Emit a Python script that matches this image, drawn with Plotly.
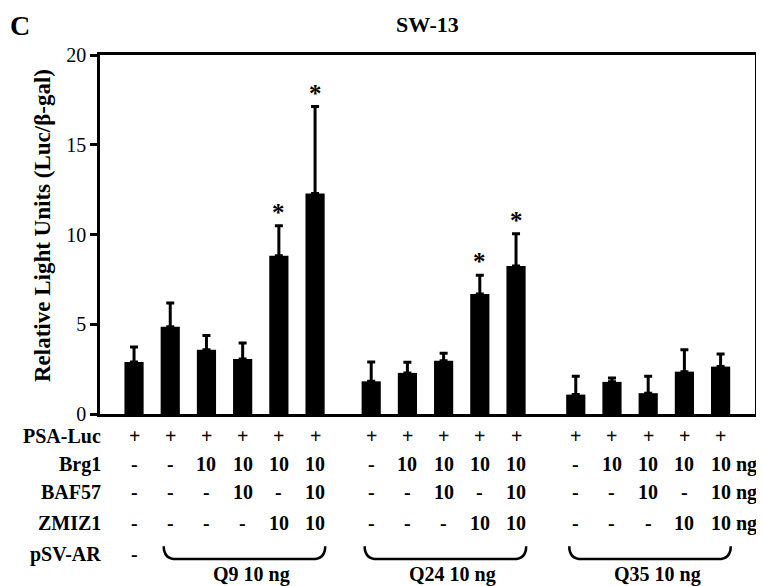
import plotly.graph_objects as go

# ---------------- data ----------------
group_names = ["Q9 10 ng", "Q24 10 ng", "Q35 10 ng"]
q9_mean = [2.90, 4.86, 3.58, 3.07, 8.81, 12.28]
q9_err = [0.83, 1.32, 0.80, 0.89, 1.68, 4.85]
q24_mean = [1.82, 2.29, 2.97, 6.69, 8.25]
q24_err = [1.08, 0.59, 0.41, 1.04, 1.79]
q35_mean = [1.08, 1.79, 1.16, 2.36, 2.64]
q35_err = [1.02, 0.22, 0.94, 1.22, 0.70]
significant = [False, False, False, False, True, True,
               False, False, False, True, True,
               False, False, False, False, False]

row_labels = ["PSA-Luc", "Brg1", "BAF57", "ZMIZ1"]
psa_luc = ["+"] * 16
brg1 = ["-", "-", "10", "10", "10", "10", "-", "10", "10", "10", "10", "-", "10", "10", "10", "10"]
baf57 = ["-", "-", "-", "10", "-", "10", "-", "-", "10", "-", "10", "-", "-", "10", "-", "10"]
zmiz1 = ["-", "-", "-", "-", "10", "10", "-", "-", "-", "10", "10", "-", "-", "-", "10", "10"]
psv_ar_first = "-"

y_ticks = [0, 5, 10, 15, 20]

# ---------------- layout helpers ----------------
FONT = "Liberation Serif, Times New Roman, serif"
W, H = 764, 586
OFF = 8  # page body margin
PLOT_L, PLOT_R, PLOT_T, PLOT_B = 100, 755.5, 54.5, 414.5  # target screen pixels
ML = PLOT_L - OFF
MR = W - (PLOT_R - OFF)
MT = PLOT_T - OFF
MB = H - (PLOT_B - OFF)
PH = PLOT_B - PLOT_T


def py(pix):
    """screen pixel row -> paper y"""
    return (PLOT_B - pix) / PH


group_starts = [0.0, 6.55, 12.2]
means = [q9_mean, q24_mean, q35_mean]
errs = [q9_err, q24_err, q35_err]

xs, ys, es = [], [], []
for g, (m, e) in enumerate(zip(means, errs)):
    for i, (mv, ev) in enumerate(zip(m, e)):
        xs.append(group_starts[g] + i)
        ys.append(mv)
        es.append(ev)

fig = go.Figure()
fig.add_trace(go.Bar(
    x=xs, y=ys, width=0.53,
    marker=dict(color="black", line=dict(width=0)),
    error_y=dict(type="data", symmetric=False, array=es,
                 arrayminus=[0] * len(es), color="black",
                 thickness=3, width=4),
    showlegend=False, hoverinfo="skip",
))

TS = 20
annotations = []
# significance stars
for x, y, e, s in zip(xs, ys, es, significant):
    if s:
        annotations.append(dict(x=x, y=y + e, xref="x", yref="y", text="<b>*</b>",
                                showarrow=False, yanchor="bottom", yshift=-2,
                                font=dict(family=FONT, size=25, color="black")))

# table rows
rows = [psa_luc, brg1, baf57, zmiz1]
row_pix = [437, 465, 493, 524]
for label, vals, rp in zip(row_labels, rows, row_pix):
    annotations.append(dict(x=0, y=py(rp), xref="paper", yref="paper", text=f"<b>{label}</b>",
                            showarrow=False, xanchor="right", yanchor="middle", xshift=3,
                            font=dict(family=FONT, size=TS, color="black")))
    for x, v in zip(xs, vals):
        annotations.append(dict(x=x, y=py(rp), xref="x", yref="paper", text=f"<b>{v}</b>",
                                showarrow=False, xanchor="center", yanchor="middle",
                                font=dict(family=FONT, size=TS, color="black")))
    if label != "PSA-Luc":
        annotations.append(dict(x=xs[-1], y=py(rp), xref="x", yref="paper", text="<b>ng</b>",
                                showarrow=False, xanchor="left", yanchor="middle", xshift=13,
                                font=dict(family=FONT, size=TS, color="black")))

# pSV-AR row
annotations.append(dict(x=0, y=py(555), xref="paper", yref="paper", text="<b>pSV-AR</b>",
                        showarrow=False, xanchor="right", yanchor="middle", xshift=3,
                        font=dict(family=FONT, size=TS, color="black")))
annotations.append(dict(x=xs[0], y=py(555), xref="x", yref="paper", text=f"<b>{psv_ar_first}</b>",
                        showarrow=False, xanchor="center", yanchor="middle",
                        font=dict(family=FONT, size=TS, color="black")))

# brackets
shapes = []
bracket_ranges = [(xs[1], xs[5]), (xs[6], xs[10]), (xs[11], xs[15])]
yt, yb = py(547), py(560)
for (a0, b0), name in zip(bracket_ranges, group_names):
    a, b = a0 - 0.18, b0 + 0.28
    d = 0.35
    path = f"M {a},{yt} Q {a},{yb} {a + d},{yb} L {b - d},{yb} Q {b},{yb} {b},{yt}"
    shapes.append(dict(type="path", path=path, xref="x", yref="paper",
                       line=dict(color="black", width=2.5)))
    annotations.append(dict(x=(a + b) / 2 + 0.2, y=py(575), xref="x", yref="paper",
                            text=f"<b>{name}</b>", showarrow=False, xanchor="center",
                            yanchor="middle", font=dict(family=FONT, size=TS, color="black")))

# title, panel letter, y label
annotations.append(dict(x=0.5, y=py(24), xref="paper", yref="paper", text="<b>SW-13</b>",
                        showarrow=False, xanchor="center", yanchor="middle",
                        font=dict(family=FONT, size=22, color="black")))
annotations.append(dict(x=0, y=py(25), xref="paper", yref="paper", text="<b>C</b>",
                        showarrow=False, xanchor="center", yanchor="middle", xshift=-80,
                        font=dict(family=FONT, size=28, color="black")))
annotations.append(dict(x=0, y=py(226), xref="paper", yref="paper",
                        text="<b>Relative Light Units (Luc/β-gal)</b>", textangle=-90,
                        showarrow=False, xanchor="center", yanchor="middle", xshift=-58,
                        font=dict(family=FONT, size=23, color="black")))

fig.update_layout(
    width=W, height=H,
    margin=dict(l=ML, r=MR, t=MT, b=MB),
    paper_bgcolor="white", plot_bgcolor="white",
    annotations=annotations, shapes=shapes,
    xaxis=dict(range=[-0.94, 17.15], showticklabels=False, ticks="", showgrid=False,
               zeroline=False, showline=True, mirror=True, linecolor="black", linewidth=2.5),
    yaxis=dict(range=[0, 20], tickvals=y_ticks, ticks="outside", ticklen=7, tickwidth=2.5,
               tickcolor="black", showgrid=False, zeroline=False, showline=True, mirror=True,
               linecolor="black", linewidth=2.5,
               tickfont=dict(family=FONT, size=20, color="black")),
)

fig.write_html("out.html")
